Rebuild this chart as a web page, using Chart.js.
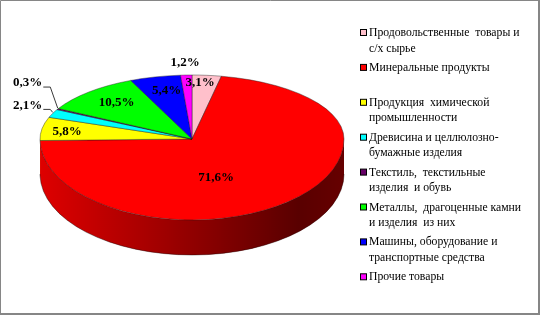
<!DOCTYPE html>
<html>
<head>
<meta charset="utf-8">
<script src="https://cdn.jsdelivr.net/npm/chart.js@4.4.1/dist/chart.umd.min.js"></script>
<style>
  html, body { margin: 0; padding: 0; background: #fff; }
  canvas { display: block; }
</style>
</head>
<body>
<canvas id="chart" width="540" height="315"></canvas>
<script>
// categories (legend lines) and their export shares, %
const categories = [
	['Продовольственные  товары и', 'с/х сырье'],
	['Минеральные продукты'],
	['Продукция  химической', 'промышленности'],
	['Древисина и целлюлозно-', 'бумажные изделия'],
	['Текстиль,  текстильные', 'изделия  и обувь'],
	['Металлы,  драгоценные камни', 'и изделия  из них'],
	['Машины, оборудование и', 'транспортные средства'],
	['Прочие товары'],
];
const shares = [3.1, 71.6, 5.8, 2.1, 0.3, 10.5, 5.4, 1.2];
const sliceColors = ['#FFC0CB', '#FF0000', '#FFFF00', '#00FFFF', '#660066', '#00FF00', '#0000FF', '#FF00FF'];

// 3d look: centre, radii of the back / front half, thickness
const CX = 192, CY = 139, RX = 152, RY_BACK = 64, RY_FRONT = 81, DEPTH = 35;

// where each value label sits (radius factor along the mid angle + nudge)
const labelSpots = [
	{ r: 0.89, dx: -5, dy: 0 },
	{ r: 0.8, dx: -54, dy: -11 },
	{ r: 0.8, dx: -5, dy: 1 },
	{ r: 1, dx: -25, dy: -8, leader: true },
	{ r: 1, dx: -30, dy: -26, leader: true },
	{ r: 0.78, dx: 5, dy: 0 },
	{ r: 0.77, dx: 3, dy: -1 },
	{ r: 1.2, dx: 0, dy: 0 },
];

const ellipsePoint = (ang, r) => {
	const ry = Math.sin(ang) < 0 ? RY_BACK : RY_FRONT;
	return { x: CX + RX * r * Math.cos(ang), y: CY + ry * r * Math.sin(ang) };
};

const pie3d = {
	id: 'pie3d',
	beforeDatasetsDraw(chart) {
		const ctx = chart.ctx;
		const arcs = chart.getDatasetMeta(0).data;
		const ox = arcs[0].x, oy = arcs[0].y, R = arcs[0].outerRadius;

		// side wall, only the front half is visible
		arcs.forEach((arc) => {
			const a = Math.max(arc.startAngle, 0);
			const b = Math.min(arc.endAngle, Math.PI);
			if (b <= a) return;
			ctx.save();
			ctx.beginPath();
			ctx.ellipse(CX, CY, RX, RY_FRONT, 0, a, b);
			ctx.ellipse(CX, CY + DEPTH, RX, RY_FRONT, 0, b, a, true);
			ctx.closePath();
			ctx.fillStyle = arc.options.backgroundColor;
			ctx.fill();
			const shade = ctx.createLinearGradient(CX - RX, 0, CX + RX, 0);
			shade.addColorStop(0, 'rgba(0,0,0,0.13)');
			shade.addColorStop(0.3, 'rgba(0,0,0,0.31)');
			shade.addColorStop(0.85, 'rgba(0,0,0,0.65)');
			shade.addColorStop(1, 'rgba(0,0,0,0.6)');
			ctx.fillStyle = shade;
			ctx.fill();
			ctx.beginPath();
			ctx.ellipse(CX, CY + DEPTH, RX, RY_FRONT, 0, a, b);
			ctx.strokeStyle = 'rgba(0,0,0,0.55)';
			ctx.lineWidth = 0.7;
			ctx.stroke();
			ctx.restore();
		});

		// top face, back and front halves squashed differently
		[[0, CY, RY_BACK], [CY, 315, RY_FRONT]].forEach(([y0, y1, ry]) => {
			ctx.save();
			ctx.beginPath();
			ctx.rect(0, y0, 540, y1 - y0);
			ctx.clip();
			ctx.translate(CX, CY);
			ctx.scale(RX / R, ry / R);
			ctx.translate(-ox, -oy);
			arcs.forEach((arc) => arc.draw(ctx));
			ctx.restore();
		});
		return false;
	},
	afterDraw(chart) {
		const ctx = chart.ctx;
		const arcs = chart.getDatasetMeta(0).data;

		// value labels
		ctx.save();
		ctx.font = 'bold 13px "Liberation Serif"';
		ctx.textAlign = 'center';
		ctx.textBaseline = 'middle';
		arcs.forEach((arc, i) => {
			const spot = labelSpots[i];
			const mid = (arc.startAngle + arc.endAngle) / 2;
			const edge = ellipsePoint(mid, 1);
			const p = ellipsePoint(mid, spot.r);
			const x = p.x + spot.dx, y = p.y + spot.dy;
			const text = shares[i].toFixed(1).replace('.', ',') + '%';
			if (spot.leader) {
				const w = ctx.measureText(text).width;
				ctx.beginPath();
				ctx.moveTo(x + w / 2 + 1, y + 4);
				ctx.lineTo(x + w / 2 + 8, y + 4);
				ctx.lineTo(edge.x, edge.y - 1);
				ctx.strokeStyle = '#3a3a3a';
				ctx.lineWidth = 1;
				ctx.stroke();
			}
			ctx.fillStyle = '#000';
			ctx.fillText(text, x, y);
		});
		ctx.restore();

		// legend
		ctx.save();
		ctx.font = '11.7px "Liberation Serif"';
		ctx.textBaseline = 'middle';
		ctx.textAlign = 'left';
		categories.forEach((lines, i) => {
			const y = 33 + i * 34.9;
			ctx.fillStyle = sliceColors[i];
			ctx.fillRect(360.5, y - 3.5, 6, 6);
			ctx.strokeStyle = '#000';
			ctx.lineWidth = 1;
			ctx.strokeRect(360.5, y - 3.5, 6, 6);
			ctx.fillStyle = '#000';
			lines.forEach((line, j) => ctx.fillText(line, 369, y + j * 15.5));
		});
		ctx.restore();

		// frame
		ctx.save();
		ctx.strokeStyle = '#868686';
		ctx.lineWidth = 1;
		ctx.beginPath();
		ctx.moveTo(0.5, 315);
		ctx.lineTo(0.5, 0.5);
		ctx.lineTo(540, 0.5);
		ctx.stroke();
		ctx.lineWidth = 2;
		ctx.beginPath();
		ctx.moveTo(539, 0);
		ctx.lineTo(539, 314);
		ctx.lineTo(0, 314);
		ctx.stroke();
		ctx.restore();
	},
};

new Chart(document.getElementById('chart'), {
	type: 'pie',
	data: {
		labels: categories,
		datasets: [
			{
				data: shares,
				backgroundColor: sliceColors,
				borderColor: '#1a1a1a',
				borderWidth: 0.6,
			},
		],
	},
	options: {
		responsive: false,
		animation: false,
		devicePixelRatio: 1,
		plugins: {
			legend: { display: false },
			tooltip: { enabled: false },
		},
	},
	plugins: [pie3d],
});
</script>
</body>
</html>
